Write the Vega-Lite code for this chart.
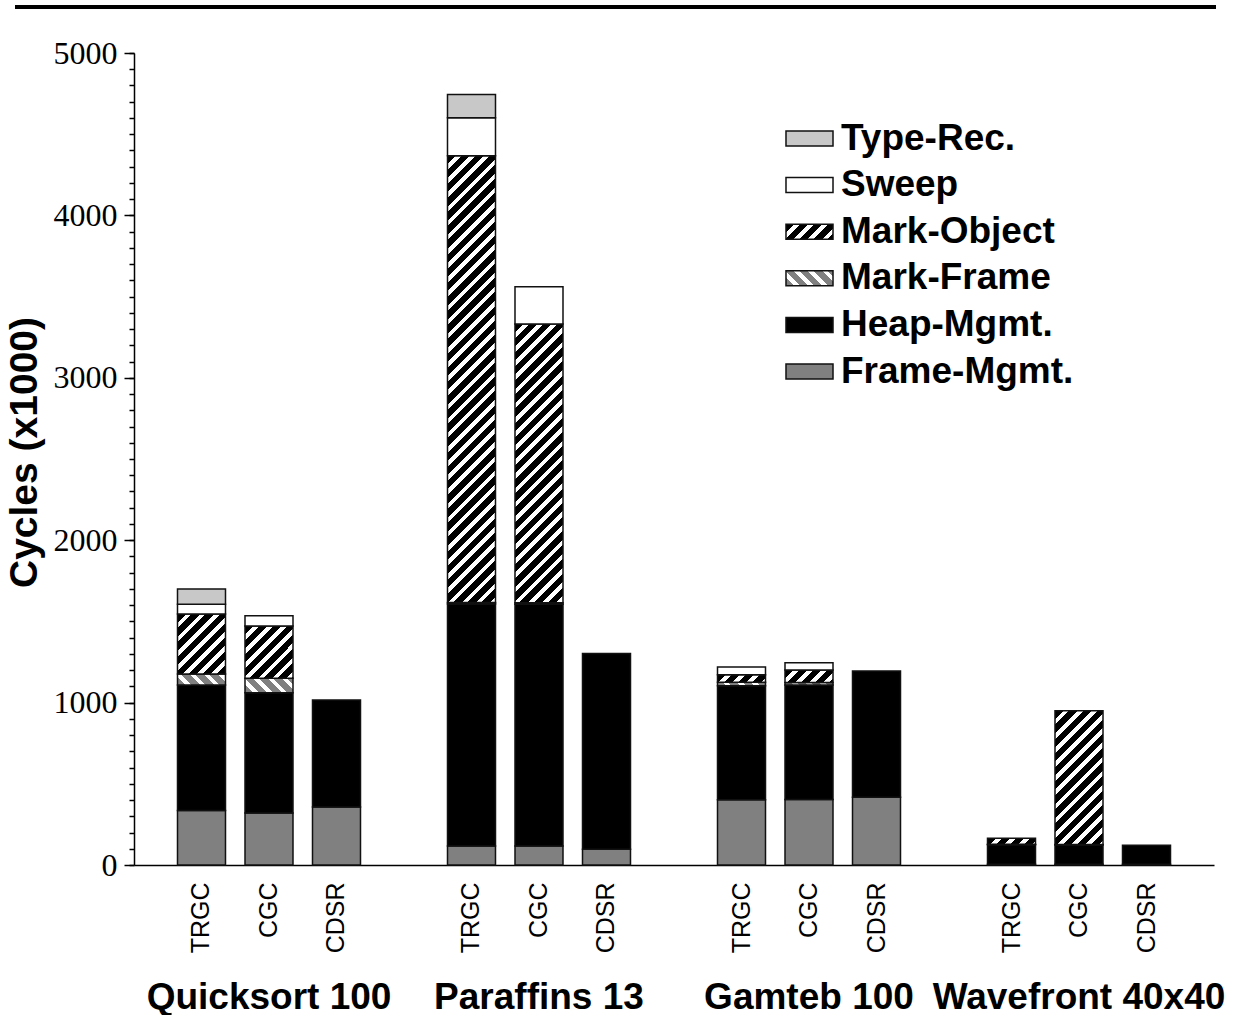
{
  "$schema": "https://vega.github.io/schema/vega-lite/v6.json",
  "padding": {"left": 5, "top": 5, "right": 0, "bottom": 0},
  "config": {"view": {"stroke": null}, "font": "Liberation Sans"},
  "params": [
    {"name": "moStops", "value": [
      {"offset":0,"color":"#000"},{"offset":0.015,"color":"#000"},{"offset":0.015,"color":"#fff"},{"offset":0.025,"color":"#fff"},
      {"offset":0.025,"color":"#000"},{"offset":0.04,"color":"#000"},{"offset":0.04,"color":"#fff"},{"offset":0.05,"color":"#fff"},
      {"offset":0.05,"color":"#000"},{"offset":0.065,"color":"#000"},{"offset":0.065,"color":"#fff"},{"offset":0.075,"color":"#fff"},
      {"offset":0.075,"color":"#000"},{"offset":0.09,"color":"#000"},{"offset":0.09,"color":"#fff"},{"offset":0.1,"color":"#fff"},
      {"offset":0.1,"color":"#000"},{"offset":0.115,"color":"#000"},{"offset":0.115,"color":"#fff"},{"offset":0.125,"color":"#fff"},
      {"offset":0.125,"color":"#000"},{"offset":0.14,"color":"#000"},{"offset":0.14,"color":"#fff"},{"offset":0.15,"color":"#fff"},
      {"offset":0.15,"color":"#000"},{"offset":0.165,"color":"#000"},{"offset":0.165,"color":"#fff"},{"offset":0.175,"color":"#fff"},
      {"offset":0.175,"color":"#000"},{"offset":0.19,"color":"#000"},{"offset":0.19,"color":"#fff"},{"offset":0.2,"color":"#fff"},
      {"offset":0.2,"color":"#000"},{"offset":0.215,"color":"#000"},{"offset":0.215,"color":"#fff"},{"offset":0.225,"color":"#fff"},
      {"offset":0.225,"color":"#000"},{"offset":0.24,"color":"#000"},{"offset":0.24,"color":"#fff"},{"offset":0.25,"color":"#fff"},
      {"offset":0.25,"color":"#000"},{"offset":0.265,"color":"#000"},{"offset":0.265,"color":"#fff"},{"offset":0.275,"color":"#fff"},
      {"offset":0.275,"color":"#000"},{"offset":0.29,"color":"#000"},{"offset":0.29,"color":"#fff"},{"offset":0.3,"color":"#fff"},
      {"offset":0.3,"color":"#000"},{"offset":0.315,"color":"#000"},{"offset":0.315,"color":"#fff"},{"offset":0.325,"color":"#fff"},
      {"offset":0.325,"color":"#000"},{"offset":0.34,"color":"#000"},{"offset":0.34,"color":"#fff"},{"offset":0.35,"color":"#fff"},
      {"offset":0.35,"color":"#000"},{"offset":0.365,"color":"#000"},{"offset":0.365,"color":"#fff"},{"offset":0.375,"color":"#fff"},
      {"offset":0.375,"color":"#000"},{"offset":0.39,"color":"#000"},{"offset":0.39,"color":"#fff"},{"offset":0.4,"color":"#fff"},
      {"offset":0.4,"color":"#000"},{"offset":0.415,"color":"#000"},{"offset":0.415,"color":"#fff"},{"offset":0.425,"color":"#fff"},
      {"offset":0.425,"color":"#000"},{"offset":0.44,"color":"#000"},{"offset":0.44,"color":"#fff"},{"offset":0.45,"color":"#fff"},
      {"offset":0.45,"color":"#000"},{"offset":0.465,"color":"#000"},{"offset":0.465,"color":"#fff"},{"offset":0.475,"color":"#fff"},
      {"offset":0.475,"color":"#000"},{"offset":0.49,"color":"#000"},{"offset":0.49,"color":"#fff"},{"offset":0.5,"color":"#fff"},
      {"offset":0.5,"color":"#000"},{"offset":0.515,"color":"#000"},{"offset":0.515,"color":"#fff"},{"offset":0.525,"color":"#fff"},
      {"offset":0.525,"color":"#000"},{"offset":0.54,"color":"#000"},{"offset":0.54,"color":"#fff"},{"offset":0.55,"color":"#fff"},
      {"offset":0.55,"color":"#000"},{"offset":0.565,"color":"#000"},{"offset":0.565,"color":"#fff"},{"offset":0.575,"color":"#fff"},
      {"offset":0.575,"color":"#000"},{"offset":0.59,"color":"#000"},{"offset":0.59,"color":"#fff"},{"offset":0.6,"color":"#fff"},
      {"offset":0.6,"color":"#000"},{"offset":0.615,"color":"#000"},{"offset":0.615,"color":"#fff"},{"offset":0.625,"color":"#fff"},
      {"offset":0.625,"color":"#000"},{"offset":0.64,"color":"#000"},{"offset":0.64,"color":"#fff"},{"offset":0.65,"color":"#fff"},
      {"offset":0.65,"color":"#000"},{"offset":0.665,"color":"#000"},{"offset":0.665,"color":"#fff"},{"offset":0.675,"color":"#fff"},
      {"offset":0.675,"color":"#000"},{"offset":0.69,"color":"#000"},{"offset":0.69,"color":"#fff"},{"offset":0.7,"color":"#fff"},
      {"offset":0.7,"color":"#000"},{"offset":0.715,"color":"#000"},{"offset":0.715,"color":"#fff"},{"offset":0.725,"color":"#fff"},
      {"offset":0.725,"color":"#000"},{"offset":0.74,"color":"#000"},{"offset":0.74,"color":"#fff"},{"offset":0.75,"color":"#fff"},
      {"offset":0.75,"color":"#000"},{"offset":0.765,"color":"#000"},{"offset":0.765,"color":"#fff"},{"offset":0.775,"color":"#fff"},
      {"offset":0.775,"color":"#000"},{"offset":0.79,"color":"#000"},{"offset":0.79,"color":"#fff"},{"offset":0.8,"color":"#fff"},
      {"offset":0.8,"color":"#000"},{"offset":0.815,"color":"#000"},{"offset":0.815,"color":"#fff"},{"offset":0.825,"color":"#fff"},
      {"offset":0.825,"color":"#000"},{"offset":0.84,"color":"#000"},{"offset":0.84,"color":"#fff"},{"offset":0.85,"color":"#fff"},
      {"offset":0.85,"color":"#000"},{"offset":0.865,"color":"#000"},{"offset":0.865,"color":"#fff"},{"offset":0.875,"color":"#fff"},
      {"offset":0.875,"color":"#000"},{"offset":0.89,"color":"#000"},{"offset":0.89,"color":"#fff"},{"offset":0.9,"color":"#fff"},
      {"offset":0.9,"color":"#000"},{"offset":0.915,"color":"#000"},{"offset":0.915,"color":"#fff"},{"offset":0.925,"color":"#fff"},
      {"offset":0.925,"color":"#000"},{"offset":0.94,"color":"#000"},{"offset":0.94,"color":"#fff"},{"offset":0.95,"color":"#fff"},
      {"offset":0.95,"color":"#000"},{"offset":0.965,"color":"#000"},{"offset":0.965,"color":"#fff"},{"offset":0.975,"color":"#fff"},
      {"offset":0.975,"color":"#000"},{"offset":0.99,"color":"#000"},{"offset":0.99,"color":"#fff"},{"offset":1,"color":"#fff"}
    ]},
    {"name": "mfStops", "value": [
      {"offset":0,"color":"#808080"},{"offset":0.015,"color":"#808080"},{"offset":0.015,"color":"#fff"},{"offset":0.025,"color":"#fff"},
      {"offset":0.025,"color":"#808080"},{"offset":0.04,"color":"#808080"},{"offset":0.04,"color":"#fff"},{"offset":0.05,"color":"#fff"},
      {"offset":0.05,"color":"#808080"},{"offset":0.065,"color":"#808080"},{"offset":0.065,"color":"#fff"},{"offset":0.075,"color":"#fff"},
      {"offset":0.075,"color":"#808080"},{"offset":0.09,"color":"#808080"},{"offset":0.09,"color":"#fff"},{"offset":0.1,"color":"#fff"},
      {"offset":0.1,"color":"#808080"},{"offset":0.115,"color":"#808080"},{"offset":0.115,"color":"#fff"},{"offset":0.125,"color":"#fff"},
      {"offset":0.125,"color":"#808080"},{"offset":0.14,"color":"#808080"},{"offset":0.14,"color":"#fff"},{"offset":0.15,"color":"#fff"},
      {"offset":0.15,"color":"#808080"},{"offset":0.165,"color":"#808080"},{"offset":0.165,"color":"#fff"},{"offset":1,"color":"#fff"}
    ]},
    {"name": "moLegend", "expr": "{gradient:'linear',x1:0,y1:0,x2:10.924,y2:3.486,stops:moStops}"},
    {"name": "mfLegend", "expr": "{gradient:'linear',x1:0,y1:1,x2:10.924,y2:-2.486,stops:mfStops}"}
  ],
  "spacing": 28,
  "vconcat": [
    {
      "width": 1082,
      "height": 4,
      "data": {"values": [{"line": "top"}]},
      "mark": {"type": "rect", "color": "black"},
      "encoding": {
        "x": {"datum": -119, "type": "quantitative", "scale": {"domain": [0, 1082], "nice": false, "zero": false}, "axis": null},
        "x2": {"datum": 1082}
      }
    },
    {
      "width": 1080,
      "height": 812,
      "data": {"values": [
        {"bar": "Q-TRGC", "cat": "Frame-Mgmt.", "v": 335},
        {"bar": "Q-TRGC", "cat": "Heap-Mgmt.", "v": 773},
        {"bar": "Q-TRGC", "cat": "Mark-Frame", "v": 68},
        {"bar": "Q-TRGC", "cat": "Mark-Object", "v": 369},
        {"bar": "Q-TRGC", "cat": "Sweep", "v": 60},
        {"bar": "Q-TRGC", "cat": "Type-Rec.", "v": 95},
        {"bar": "Q-CGC", "cat": "Frame-Mgmt.", "v": 320},
        {"bar": "Q-CGC", "cat": "Heap-Mgmt.", "v": 741},
        {"bar": "Q-CGC", "cat": "Mark-Frame", "v": 89},
        {"bar": "Q-CGC", "cat": "Mark-Object", "v": 322},
        {"bar": "Q-CGC", "cat": "Sweep", "v": 63},
        {"bar": "Q-CDSR", "cat": "Frame-Mgmt.", "v": 357},
        {"bar": "Q-CDSR", "cat": "Heap-Mgmt.", "v": 659},
        {"bar": "P-TRGC", "cat": "Frame-Mgmt.", "v": 117},
        {"bar": "P-TRGC", "cat": "Heap-Mgmt.", "v": 1490},
        {"bar": "P-TRGC", "cat": "Mark-Frame", "v": 10},
        {"bar": "P-TRGC", "cat": "Mark-Object", "v": 2751},
        {"bar": "P-TRGC", "cat": "Sweep", "v": 234},
        {"bar": "P-TRGC", "cat": "Type-Rec.", "v": 143},
        {"bar": "P-CGC", "cat": "Frame-Mgmt.", "v": 117},
        {"bar": "P-CGC", "cat": "Heap-Mgmt.", "v": 1488},
        {"bar": "P-CGC", "cat": "Mark-Frame", "v": 10},
        {"bar": "P-CGC", "cat": "Mark-Object", "v": 1716},
        {"bar": "P-CGC", "cat": "Sweep", "v": 230},
        {"bar": "P-CDSR", "cat": "Frame-Mgmt.", "v": 97},
        {"bar": "P-CDSR", "cat": "Heap-Mgmt.", "v": 1206},
        {"bar": "G-TRGC", "cat": "Frame-Mgmt.", "v": 402},
        {"bar": "G-TRGC", "cat": "Heap-Mgmt.", "v": 702},
        {"bar": "G-TRGC", "cat": "Mark-Frame", "v": 21},
        {"bar": "G-TRGC", "cat": "Mark-Object", "v": 47},
        {"bar": "G-TRGC", "cat": "Sweep", "v": 47},
        {"bar": "G-CGC", "cat": "Frame-Mgmt.", "v": 404},
        {"bar": "G-CGC", "cat": "Heap-Mgmt.", "v": 704},
        {"bar": "G-CGC", "cat": "Mark-Frame", "v": 15},
        {"bar": "G-CGC", "cat": "Mark-Object", "v": 78},
        {"bar": "G-CGC", "cat": "Sweep", "v": 45},
        {"bar": "G-CDSR", "cat": "Frame-Mgmt.", "v": 417},
        {"bar": "G-CDSR", "cat": "Heap-Mgmt.", "v": 778},
        {"bar": "W-TRGC", "cat": "Frame-Mgmt.", "v": 5},
        {"bar": "W-TRGC", "cat": "Heap-Mgmt.", "v": 120},
        {"bar": "W-TRGC", "cat": "Mark-Frame", "v": 3},
        {"bar": "W-TRGC", "cat": "Mark-Object", "v": 36},
        {"bar": "W-CGC", "cat": "Frame-Mgmt.", "v": 5},
        {"bar": "W-CGC", "cat": "Heap-Mgmt.", "v": 118},
        {"bar": "W-CGC", "cat": "Mark-Frame", "v": 3},
        {"bar": "W-CGC", "cat": "Mark-Object", "v": 824},
        {"bar": "W-CDSR", "cat": "Frame-Mgmt.", "v": 5},
        {"bar": "W-CDSR", "cat": "Heap-Mgmt.", "v": 116}
      ]},
      "resolve": {"axis": {"x": "independent", "y": "independent"}},
      "layer": [
        {
          "mark": {"type": "bar", "stroke": "#111", "strokeWidth": 1.5},
          "encoding": {
            "x": {
              "field": "bar", "type": "nominal",
              "scale": {"domain": ["Q-TRGC","Q-CGC","Q-CDSR","gap1","P-TRGC","P-CGC","P-CDSR","gap2","G-TRGC","G-CGC","G-CDSR","gap3","W-TRGC","W-CGC","W-CDSR"], "paddingInner": 0.2889, "paddingOuter": 0.6444},
              "axis": {
                "title": null, "orient": "bottom", "labelAngle": -90, "labelFont": "Liberation Sans", "labelFontSize": 25,
                "labelColor": "black", "labelPadding": 17, "ticks": false, "tickSize": 0,
                "domainColor": "black", "domainWidth": 1.5,
                "labelExpr": "indexof(datum.value,'-') < 0 ? '' : split(datum.value,'-')[1]"
              }
            },
            "y": {
              "field": "v", "type": "quantitative", "stack": "zero",
              "scale": {"domain": [0, 5000], "nice": false},
              "axis": {
                "orient": "left", "values": [0,1000,2000,3000,4000,5000], "format": "d", "grid": false,
                "title": "Cycles (x1000)", "titleFont": "Liberation Sans", "titleFontWeight": "bold", "titleFontSize": 39,
                "titleColor": "black", "titlePadding": 9, "titleY": 399,
                "labelFont": "Liberation Serif", "labelFontSize": 32, "labelColor": "black", "labelPadding": 7,
                "tickSize": 10, "tickColor": "black", "tickWidth": 1.5, "domainColor": "black", "domainWidth": 1.5
              }
            },
            "fill": {
              "condition": [
                {"test": "datum.cat === 'Mark-Object'", "value": {"expr": "{gradient:'linear',x1:0,y1:0,x2:48*565.7/(2304+pow((datum.v_end-datum.v_start)*0.1624,2)),y2:(datum.v_end-datum.v_start)*0.1624*565.7/(2304+pow((datum.v_end-datum.v_start)*0.1624,2)),stops:moStops}"}},
                {"test": "datum.cat === 'Mark-Frame'", "value": {"expr": "{gradient:'linear',x1:0,y1:1,x2:48*565.7/(2304+pow((datum.v_end-datum.v_start)*0.1624,2)),y2:1-(datum.v_end-datum.v_start)*0.1624*565.7/(2304+pow((datum.v_end-datum.v_start)*0.1624,2)),stops:mfStops}"}}
              ],
              "field": "cat", "type": "nominal",
              "scale": {
                "domain": ["Type-Rec.", "Sweep", "Mark-Object", "Mark-Frame", "Heap-Mgmt.", "Frame-Mgmt."],
                "range": ["#c8c8c8", "#ffffff", {"expr": "moLegend"}, {"expr": "mfLegend"}, "#000000", "#808080"]
              },
              "legend": {
                "title": null, "orient": "none", "legendX": 657, "legendY": 115, "padding": 0,
                "symbolType": "M-1.567,-0.5H1.567V0.5H-1.567Z", "symbolSize": 900,
                "symbolStrokeColor": "#111", "symbolStrokeWidth": 1.5, "symbolOpacity": 1,
                "labelFont": "Liberation Sans", "labelFontWeight": "bold", "labelFontSize": 37, "labelColor": "black",
                "labelOffset": 13, "rowPadding": 8.6, "labelLimit": 400
              }
            },
            "order": {"field": "cat", "sort": "ascending"}
          }
        },
        {
          "mark": {"type": "point", "opacity": 0},
          "encoding": {
            "x": {
              "field": "bar", "type": "nominal",
              "scale": {"domain": ["Q-TRGC","Q-CGC","Q-CDSR","gap1","P-TRGC","P-CGC","P-CDSR","gap2","G-TRGC","G-CGC","G-CDSR","gap3","W-TRGC","W-CGC","W-CDSR"], "paddingInner": 0.2889, "paddingOuter": 0.6444},
              "axis": {
                "title": null, "orient": "bottom", "domain": false, "ticks": false, "tickSize": 0, "labelAngle": 0,
                "labelFont": "Liberation Sans", "labelFontWeight": "bold", "labelFontSize": 37, "labelColor": "black",
                "labelPadding": 114, "labelOverlap": false, "labelBound": false, "labelLimit": 0,
                "labelExpr": "datum.value == 'Q-CGC' ? 'Quicksort 100' : datum.value == 'P-CGC' ? 'Paraffins 13' : datum.value == 'G-CGC' ? 'Gamteb 100' : datum.value == 'W-CGC' ? 'Wavefront 40x40' : ''"
              }
            },
            "y": {
              "datum": 0, "type": "quantitative",
              "scale": {"domain": [0, 5000], "nice": false},
              "axis": {
                "orient": "left", "title": null, "labels": false, "domain": false, "grid": false,
                "values": [0,100,200,300,400,500,600,700,800,900,1000,1100,1200,1300,1400,1500,1600,1700,1800,1900,2000,2100,2200,2300,2400,2500,2600,2700,2800,2900,3000,3100,3200,3300,3400,3500,3600,3700,3800,3900,4000,4100,4200,4300,4400,4500,4600,4700,4800,4900,5000],
                "tickSize": 5, "tickColor": "black", "tickWidth": 1.5
              }
            }
          }
        }
      ]
    }
  ]
}
